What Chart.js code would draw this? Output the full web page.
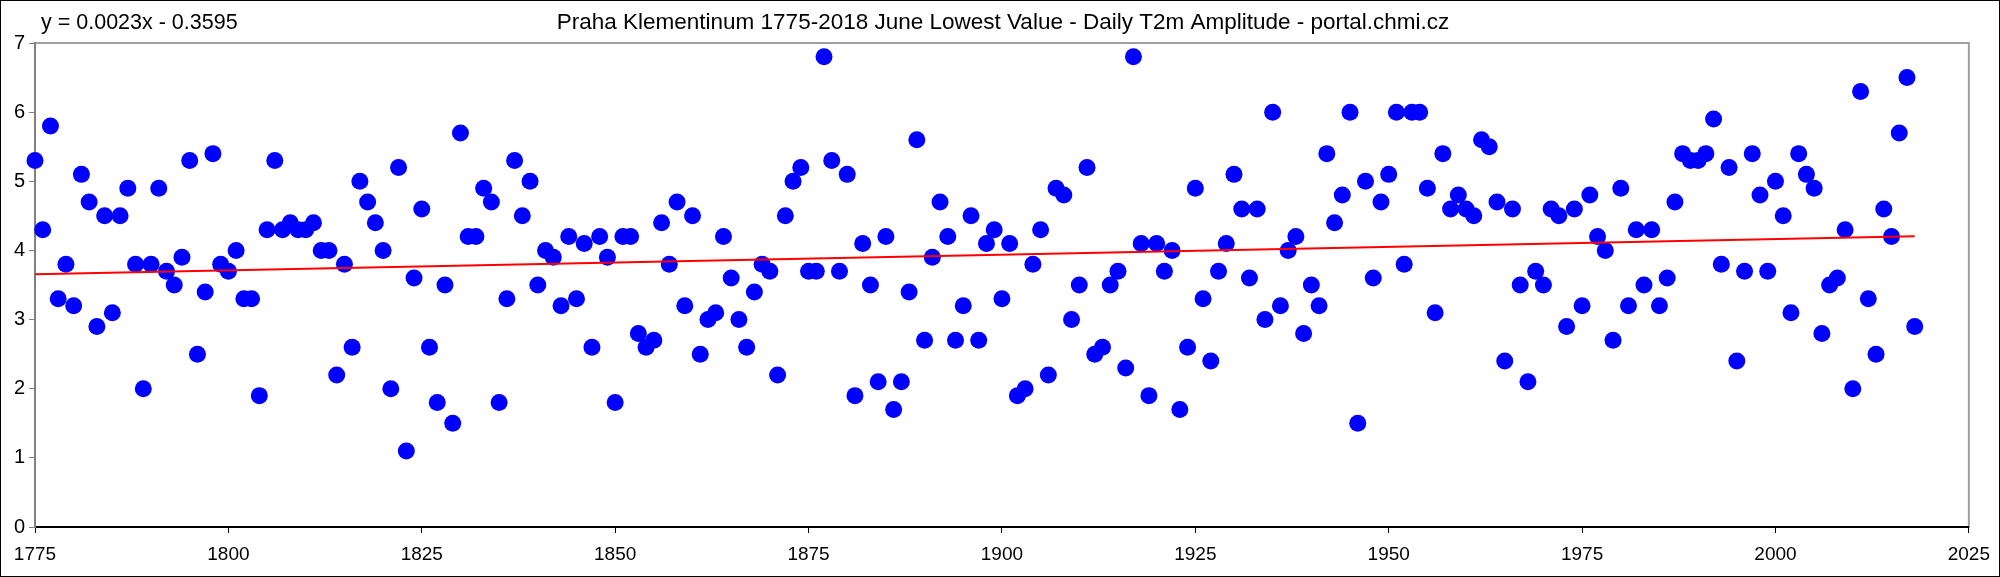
<!DOCTYPE html>
<html>
<head>
<meta charset="utf-8">
<script src="https://cdn.jsdelivr.net/npm/chart.js@4/dist/chart.umd.min.js"></script>
<style>
html,body{margin:0;padding:0;background:#fff;}
#wrap{width:2000px;height:577px;position:relative;}
</style>
</head>
<body>
<div id="wrap"><canvas id="c" width="2000" height="577"></canvas></div>
<script>
const titleText = "Praha Klementinum 1775-2018 June Lowest Value - Daily T2m Amplitude - portal.chmi.cz";
const equationText = "y = 0.0023x - 0.3595";
const firstYear = 1775;
const values = [
  5.3, 4.3, 5.8, 3.3, 3.8, 3.2, 5.1, 4.7, 2.9, 4.5,
  3.1, 4.5, 4.9, 3.8, 2.0, 3.8, 4.9, 3.7, 3.5, 3.9,
  5.3, 2.5, 3.4, 5.4, 3.8, 3.7, 4.0, 3.3, 3.3, 1.9,
  4.3, 5.3, 4.3, 4.4, 4.3, 4.3, 4.4, 4.0, 4.0, 2.2,
  3.8, 2.6, 5.0, 4.7, 4.4, 4.0, 2.0, 5.2, 1.1, 3.6,
  4.6, 2.6, 1.8, 3.5, 1.5, 5.7, 4.2, 4.2, 4.9, 4.7,
  1.8, 3.3, 5.3, 4.5, 5.0, 3.5, 4.0, 3.9, 3.2, 4.2,
  3.3, 4.1, 2.6, 4.2, 3.9, 1.8, 4.2, 4.2, 2.8, 2.6,
  2.7, 4.4, 3.8, 4.7, 3.2, 4.5, 2.5, 3.0, 3.1, 4.2,
  3.6, 3.0, 2.6, 3.4, 3.8, 3.7, 2.2, 4.5, 5.0, 5.2,
  3.7, 3.7, 6.8, 5.3, 3.7, 5.1, 1.9, 4.1, 3.5, 2.1,
  4.2, 1.7, 2.1, 3.4, 5.6, 2.7, 3.9, 4.7, 4.2, 2.7,
  3.2, 4.5, 2.7, 4.1, 4.3, 3.3, 4.1, 1.9, 2.0, 3.8,
  4.3, 2.2, 4.9, 4.8, 3.0, 3.5, 5.2, 2.5, 2.6, 3.5,
  3.7, 2.3, 6.8, 4.1, 1.9, 4.1, 3.7, 4.0, 1.7, 2.6,
  4.9, 3.3, 2.4, 3.7, 4.1, 5.1, 4.6, 3.6, 4.6, 3.0,
  6.0, 3.2, 4.0, 4.2, 2.8, 3.5, 3.2, 5.4, 4.4, 4.8,
  6.0, 1.5, 5.0, 3.6, 4.7, 5.1, 6.0, 3.8, 6.0, 6.0,
  4.9, 3.1, 5.4, 4.6, 4.8, 4.6, 4.5, 5.6, 5.5, 4.7,
  2.4, 4.6, 3.5, 2.1, 3.7, 3.5, 4.6, 4.5, 2.9, 4.6,
  3.2, 4.8, 4.2, 4.0, 2.7, 4.9, 3.2, 4.3, 3.5, 4.3,
  3.2, 3.6, 4.7, 5.4, 5.3, 5.3, 5.4, 5.9, 3.8, 5.2,
  2.4, 3.7, 5.4, 4.8, 3.7, 5.0, 4.5, 3.1, 5.4, 5.1,
  4.9, 2.8, 3.5, 3.6, 4.3, 2.0, 6.3, 3.3, 2.5, 4.6,
  4.2, 5.7, 6.5, 2.9
];
const years = values.map((v, i) => firstYear + i);
const xTicks = [1775, 1800, 1825, 1850, 1875, 1900, 1925, 1950, 1975, 2000, 2025];
const yTicks = [0, 1, 2, 3, 4, 5, 6, 7];

// least-squares trend line from the data
const n = values.length;
const mx = years.reduce((a, b) => a + b, 0) / n;
const my = values.reduce((a, b) => a + b, 0) / n;
let sxy = 0, sxx = 0;
for (let i = 0; i < n; i++) { sxy += (years[i] - mx) * (values[i] - my); sxx += (years[i] - mx) ** 2; }
const slope = sxy / sxx, intercept = my - slope * mx;
const trend = [years[0], years[n - 1]].map(x => ({ x, y: slope * x + intercept }));

const FONT = "Arial, 'Liberation Sans', sans-serif";

const decor = {
  id: 'decor',
  beforeDraw(chart) {
    const { ctx, chartArea: a } = chart;
    ctx.save();
    ctx.fillStyle = '#fff';
    ctx.fillRect(0, 0, chart.width, chart.height);
    ctx.strokeStyle = '#a0a0a0';
    ctx.lineWidth = 2;
    ctx.strokeRect(a.left, a.top, a.right - a.left, a.bottom - a.top);
    ctx.restore();
  },
  afterDraw(chart) {
    const { ctx } = chart;
    ctx.save();
    ctx.strokeStyle = '#000';
    ctx.lineWidth = 1;
    ctx.strokeRect(0.5, 0.5, chart.width - 1, chart.height - 1);
    ctx.fillStyle = '#000';
    ctx.textBaseline = 'middle';
    ctx.textAlign = 'left';
    ctx.font = "21.5px " + FONT;
    ctx.fillText(equationText, 41, 23);
    ctx.textAlign = 'center';
    ctx.font = "22.5px " + FONT;
    ctx.fillText(titleText, 1003, 23);
    ctx.restore();
  }
};

new Chart(document.getElementById('c'), {
  type: 'scatter',
  data: {
    datasets: [
      {
        type: 'line',
        data: trend,
        borderColor: '#ff0000',
        borderWidth: 2,
        pointRadius: 0,
        fill: false,
        order: 0
      },
      {
        data: years.map((x, i) => ({ x, y: values[i] })),
        backgroundColor: '#0000ff',
        borderColor: '#0000ff',
        borderWidth: 0,
        pointRadius: 8.5,
        pointHoverRadius: 8.5,
        clip: false,
        order: 1
      }
    ]
  },
  options: {
    responsive: false,
    animation: false,
    devicePixelRatio: 1,
    layout: { padding: { top: 43, right: 30, left: 0, bottom: 0 } },
    plugins: { legend: { display: false }, tooltip: { enabled: false }, title: { display: false } },
    scales: {
      x: {
        type: 'linear',
        min: 1775, max: 2025,
        afterBuildTicks(s) { s.ticks = xTicks.map(v => ({ value: v })); },
        afterFit(s) { s.height = 50; },
        grid: { drawOnChartArea: false, tickLength: 6, color: '#000', tickWidth: 1 },
        border: { color: '#000', width: 2 },
        ticks: { color: '#000', font: { family: FONT, size: 19 }, padding: 10, maxRotation: 0, autoSkip: false, callback: v => String(v) }
      },
      y: {
        min: 0, max: 7,
        afterBuildTicks(s) { s.ticks = yTicks.map(v => ({ value: v })); },
        afterFit(s) { s.width = 35; },
        grid: { drawOnChartArea: false, tickLength: 6, color: '#808080' },
        border: { color: '#808080', width: 2 },
        ticks: { color: '#000', font: { family: FONT, size: 20 }, padding: 4, callback: v => String(v) }
      }
    }
  },
  plugins: [decor]
});
</script>
</body>
</html>
